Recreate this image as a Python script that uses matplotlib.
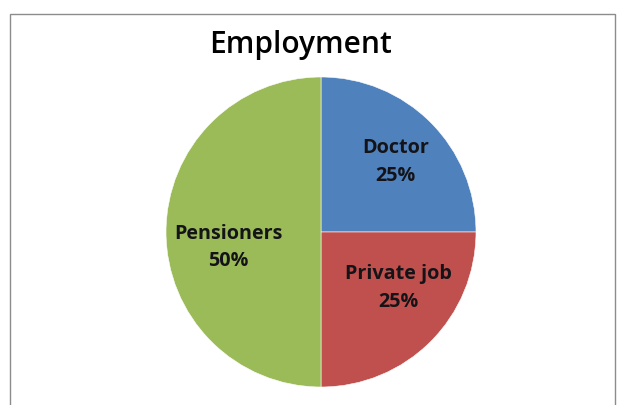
"""
Employment pie chart
"""

import matplotlib
matplotlib.use('Agg')
import matplotlib.pyplot as plt
from matplotlib.patches import Rectangle

plt.rcParams['font.family'] = ['Open Sans', 'DejaVu Sans']

# Data
categories = ['Doctor', 'Private job', 'Pensioners']
shares = [25, 25, 50]
colors = ['#4F81BD', '#C0504D', '#9BBB59']
title = 'Employment'

fig = plt.figure(figsize=(6.25, 4.05), dpi=100)
fig.patch.set_facecolor('white')

# chart area border
fig.patches.append(Rectangle((10 / 625, -0.05), 605 / 625, 1 - 14 / 405 + 0.05,
                             transform=fig.transFigure, fill=False,
                             edgecolor='#8c8c8c', linewidth=1.0))

cx, cy, r = 321, 232, 155
ax = fig.add_axes([(cx - r) / 625, (405 - cy - r) / 405, 2 * r / 625, 2 * r / 405])
wedges, _ = ax.pie(shares, colors=colors, startangle=90, counterclock=False,
                   radius=1.0, wedgeprops=dict(edgecolor='white', linewidth=0.4))
ax.set_xlim(-1, 1)
ax.set_ylim(-1, 1)
ax.set_aspect('equal')
ax.axis('off')

# label anchors inside each slice (data coords)
label_pos = [(0.48, 0.45), (0.50, -0.36), (-0.60, -0.10)]
for cat, val, (lx, ly) in zip(categories, shares, label_pos):
    ax.text(lx, ly, f'{cat}\n{val}%', ha='center', va='center',
            fontsize=14.2, fontweight='bold', color='#141418', linespacing=1.52)

fig.text(301 / 625, 1 - 53 / 405, title, ha='center', va='baseline',
         fontsize=21.5, fontweight='semibold', color='black')

plt.savefig('out.png', dpi=100)
plt.close()
